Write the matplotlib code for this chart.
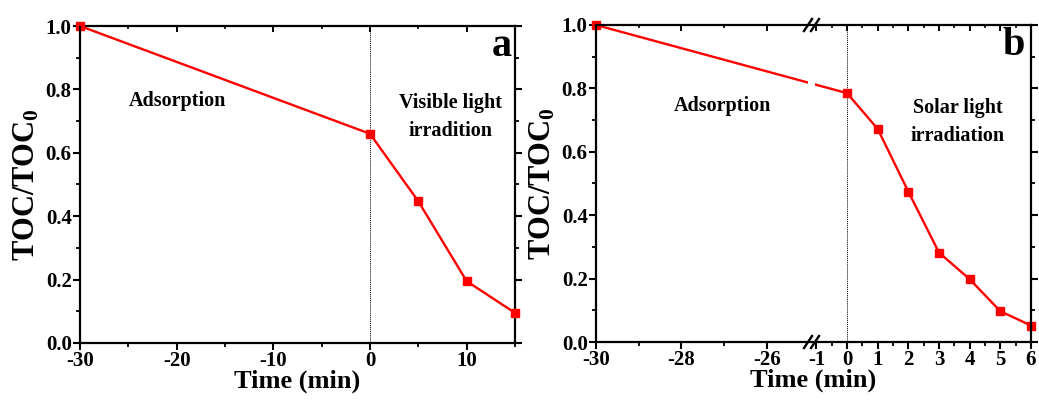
import numpy as np
import matplotlib
matplotlib.use("Agg")
import matplotlib.pyplot as plt
from matplotlib.ticker import FixedLocator, MultipleLocator, NullFormatter

# ---------------- data ----------------
time_a = [-30, 0, 5, 10, 15]
toc_a = [1.0, 0.66, 0.447, 0.195, 0.095]

time_b = [-30, 0, 1, 2, 3, 4, 5, 6]
toc_b = [1.0, 0.785, 0.672, 0.474, 0.282, 0.198, 0.097, 0.052]

xticks_a = [-30, -20, -10, 0, 10]
xminor_a = [-25, -15, -5, 5, 15]
xticks_b = [-30, -28, -26, -1, 0, 1, 2, 3, 4, 5, 6]
xminor_b = [-29, -27, -0.5, 0.5, 1.5, 2.5, 3.5, 4.5, 5.5]
yticks = [0.0, 0.2, 0.4, 0.6, 0.8, 1.0]

plt.rcParams['font.family'] = ['Liberation Serif', 'DejaVu Serif']
plt.rcParams['font.weight'] = 'bold'
plt.rcParams['mathtext.fontset'] = 'custom'
plt.rcParams['mathtext.rm'] = 'Liberation Serif:bold'
plt.rcParams['mathtext.bf'] = 'Liberation Serif:bold'
plt.rcParams['mathtext.it'] = 'Liberation Serif:bold'

W, H = 1039, 401
fig = plt.figure(figsize=(W / 100, H / 100), dpi=100)

def frac(l, t, r, b):
    return [l / W, (H - b) / H, (r - l) / W, (b - t) / H]

ax_a = fig.add_axes(frac(80, 26, 515, 343))
ax_b = fig.add_axes(frac(596, 25, 1031, 342))

RED = '#ff0000'
TICKFS = 15

def style(ax, xt, xm):
    for s in ax.spines.values():
        s.set_linewidth(1.6)
    ax.xaxis.set_major_locator(FixedLocator(xt))
    ax.xaxis.set_minor_locator(FixedLocator(xm))
    ax.set_xticklabels([str(v) for v in xt])
    ax.tick_params(axis='both', which='major', direction='out', length=5, width=1.5,
                   labelsize=TICKFS, pad=1)
    ax.tick_params(axis='both', which='minor', direction='out', length=3, width=1.3)
    ax.tick_params(axis='y', which='both', right=True)
    ax.set_ylim(0, 1.0)
    ax.yaxis.set_major_locator(FixedLocator(yticks))
    ax.yaxis.set_minor_locator(MultipleLocator(0.1))
    ax.set_yticklabels([f"{v:.1f}" for v in yticks])
    ax.set_ylabel('TOC/TOC$_0$', fontsize=22, fontweight='bold', labelpad=3)
    ax.set_xlabel('Time (min)', fontsize=19, fontweight='bold', labelpad=-1)
    for lab in ax.get_xticklabels() + ax.get_yticklabels():
        lab.set_fontweight('bold')

def top_ticks(ax, xt, xm):
    tw = ax.twiny()
    if ax.get_xscale() == 'function':
        tw.set_xscale('function', functions=(fwd, inv))
    tw.set_xlim(ax.get_xlim())
    tw.xaxis.set_major_locator(FixedLocator(xt))
    tw.xaxis.set_minor_locator(FixedLocator(xm))
    tw.xaxis.set_major_formatter(NullFormatter())
    tw.tick_params(axis='x', which='major', direction='in', length=4, width=1.4)
    tw.tick_params(axis='x', which='minor', direction='in', length=2.5, width=1.2)
    for s in tw.spines.values():
        s.set_visible(False)
    ax.tick_params(axis='x', which='both', top=False)
    return tw

# ---------------- panel a ----------------
ax_a.set_xlim(-30, 15)
style(ax_a, xticks_a, xminor_a)
ax_a.plot(time_a, toc_a, color=RED, lw=1.7, marker='s', ms=5.5, zorder=3, clip_on=False)
ax_a.axvline(0, color='black', lw=0.7, ls=(0, (1, 1)), zorder=1)
ax_a.text(0.225, 0.763, 'Adsorption', transform=ax_a.transAxes, fontsize=14.5,
          fontweight='bold', ha='center', va='center')
ax_a.text(0.851, 0.712, 'Visible light\nirradition', transform=ax_a.transAxes,
          fontsize=14.5, fontweight='bold', ha='center', va='center', linespacing=1.55)
ax_a.text(0.993, 0.935, 'a', transform=ax_a.transAxes, fontsize=29, fontweight='bold',
          ha='right', va='center')

# ---------------- panel b (broken axis) ----------------
L, R, k, g = -25.05, -1.03, 1.394, 0.26

def fwd(x):
    x = np.asarray(x, dtype=float)
    y0 = (L + 30) * k
    left = (x + 30) * k
    mid = y0 + (x - L) / (R - L) * g
    right = y0 + g + (x - R)
    return np.where(x <= L, left, np.where(x >= R, right, mid))

def inv(y):
    y = np.asarray(y, dtype=float)
    y0 = (L + 30) * k
    left = y / k - 30
    mid = L + (y - y0) / g * (R - L)
    right = R + (y - y0 - g)
    return np.where(y <= y0, left, np.where(y >= y0 + g, right, mid))

ax_b.set_xscale('function', functions=(fwd, inv))
ax_b.set_xlim(-30, 6)
style(ax_b, xticks_b, xminor_b)
ax_b.plot(time_b, toc_b, color=RED, lw=1.7, marker='s', ms=5.5, zorder=3, clip_on=False)
ax_b.axvline(0, color='black', lw=0.7, ls=(0, (1, 1)), zorder=1)
# gap in the data line at the axis break
ax_b.axvspan(L, R, color='white', zorder=3.5, lw=0)
for s in ax_b.spines.values():
    s.set_zorder(4)

ax_b.text(0.29, 0.745, 'Adsorption', transform=ax_b.transAxes, fontsize=14.5,
          fontweight='bold', ha='center', va='center')
ax_b.text(0.832, 0.694, 'Solar light\nirradiation', transform=ax_b.transAxes,
          fontsize=14.5, fontweight='bold', ha='center', va='center', linespacing=1.55)
ax_b.text(0.987, 0.935, 'b', transform=ax_b.transAxes, fontsize=29, fontweight='bold',
          ha='right', va='center')

top_ticks(ax_a, xticks_a, xminor_a)
top_ticks(ax_b, xticks_b, xminor_b)

# break marks "//" on bottom and top spines
fig.canvas.draw()
xb = (L + R) / 2
px = ax_b.transData.transform((xb, 0.5))[0]
inv_t = ax_b.transAxes.inverted()
for yv in (0, 1):
    ypix = ax_b.transAxes.transform((0, yv))[1]
    for dx in (-3.5, 3.5):
        pts = inv_t.transform(np.array([[px + dx - 4, ypix - 6], [px + dx + 4, ypix + 6]]))
        ax_b.plot(pts[:, 0], pts[:, 1], transform=ax_b.transAxes, color='black',
                  lw=1.7, clip_on=False, zorder=5)

fig.savefig('out.png', dpi=100)
